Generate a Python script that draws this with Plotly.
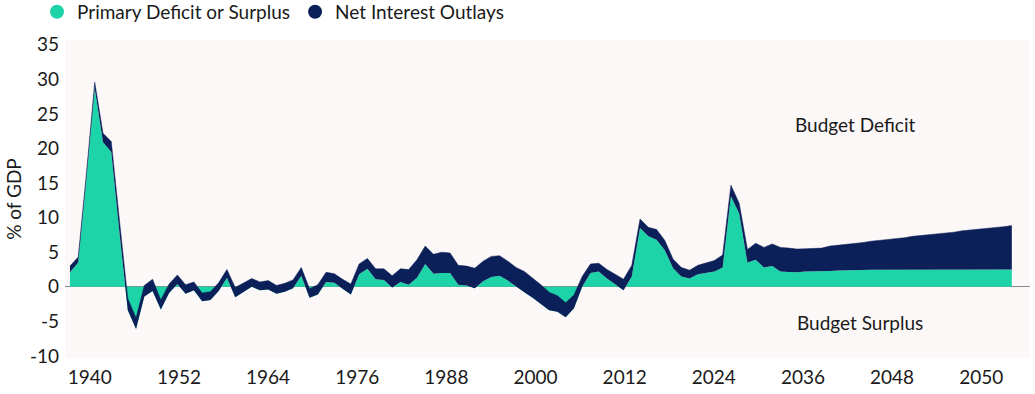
import plotly.graph_objects as go

years = list(range(1940, 2055))

primary = [
    2.1, 3.5, 15.8, 28.7, 20.9, 19.5, 7.7, -3.4, -6.1, -1.4,   # 1940-1949
    -0.6, -3.3, -0.9, 0.4, -1.0, -0.5, -2.1, -1.9, -0.6, 1.3,  # 1950-1959
    -1.5, -0.7, 0.0, -0.5, -0.4, -1.0, -0.7, -0.2, 1.6, -1.6,  # 1960-1969
    -1.1, 0.7, 0.6, -0.3, -1.1, 1.8, 2.6, 1.1, 1.0, -0.1,      # 1970-1979
    0.7, 0.3, 1.3, 3.3, 1.9, 2.0, 2.0, 0.3, 0.2, -0.2,         # 1980-1989
    0.8, 1.4, 1.6, 0.9, 0.0, -0.8, -1.6, -2.5, -3.4, -3.6,     # 1990-1999
    -4.4, -3.1, 0.0, 2.0, 2.2, 1.2, 0.3, -0.5, 1.5, 8.5,       # 2000-2009
    7.3, 6.8, 5.3, 2.7, 1.5, 1.2, 1.8, 2.0, 2.2, 2.8,          # 2010-2019
    13.1, 10.6, 3.5, 3.9, 2.8, 3.0, 2.2, 2.15, 2.1, 2.2,       # 2020-2029
    2.2, 2.2, 2.3, 2.35, 2.4, 2.4, 2.4, 2.45, 2.45, 2.45,      # 2030-2039
    2.45, 2.45, 2.5, 2.5, 2.5, 2.5, 2.5, 2.5, 2.5, 2.5,        # 2040-2049
    2.5, 2.5, 2.5, 2.5, 2.5,                                   # 2050-2054
]

net_interest = [
    0.9, 0.8, 0.7, 0.9, 1.3, 1.5, 1.8, 1.7, 1.6, 1.6,          # 1940-1949
    1.7, 1.4, 1.3, 1.3, 1.3, 1.2, 1.2, 1.2, 1.2, 1.2,          # 1950-1959
    1.4, 1.3, 1.2, 1.2, 1.3, 1.2, 1.2, 1.2, 1.2, 1.3,          # 1960-1969
    1.4, 1.4, 1.3, 1.4, 1.5, 1.5, 1.5, 1.5, 1.6, 1.7,          # 1970-1979
    1.9, 2.2, 2.6, 2.6, 2.8, 3.0, 2.9, 2.8, 2.8, 2.9,          # 1980-1989
    2.9, 3.0, 2.9, 2.8, 2.8, 3.0, 2.9, 2.8, 2.6, 2.3,          # 1990-1999
    2.1, 1.9, 1.5, 1.3, 1.2, 1.3, 1.5, 1.6, 1.6, 1.3,          # 2000-2009
    1.3, 1.5, 1.4, 1.3, 1.3, 1.2, 1.3, 1.4, 1.6, 1.8,          # 2010-2019
    1.6, 1.5, 1.9, 2.4, 2.9, 3.2, 3.5, 3.45, 3.35, 3.3,        # 2020-2029
    3.35, 3.4, 3.6, 3.65, 3.8, 3.9, 4.0, 4.15, 4.25, 4.35,     # 2030-2039
    4.55, 4.65, 4.8, 4.9, 5.0, 5.2, 5.3, 5.4, 5.6, 5.7,        # 2040-2049
    5.8, 6.0, 6.1, 6.2, 6.35,                                  # 2050-2054
]

tick_labels = ["1940", "1952", "1964", "1976", "1988", "2000",
               "2012", "2024", "2036", "2048", "2050"]
y_ticks = [-10, -5, 0, 5, 10, 15, 20, 25, 30, 35]

TEAL = "#1DD3A8"
NAVY = "#0B1F58"
FONT = "Lato"

first_tick, last_tick = 1942.4, 2050.3
step = (last_tick - first_tick) / (len(tick_labels) - 1)
tick_pos = [first_tick + i * step for i in range(len(tick_labels))]

fig = go.Figure()
fig.add_trace(go.Scatter(
    x=years, y=primary, stackgroup="one", mode="lines",
    line=dict(width=0, color=TEAL), fillcolor=TEAL,
    name="Primary Deficit or Surplus", showlegend=False, hoverinfo="skip"))
fig.add_trace(go.Scatter(
    x=years, y=net_interest, stackgroup="one", mode="lines",
    line=dict(width=0.5, color=NAVY), fillcolor=NAVY,
    name="Net Interest Outlays", showlegend=False, hoverinfo="skip"))

# legend entries with circular markers
fig.add_trace(go.Scatter(x=[None], y=[None], mode="markers",
                         marker=dict(symbol="circle", size=14, color=TEAL),
                         name="Primary Deficit or Surplus"))
fig.add_trace(go.Scatter(x=[None], y=[None], mode="markers",
                         marker=dict(symbol="circle", size=14, color=NAVY),
                         name="Net Interest Outlays"))

fig.add_annotation(x=2035.0, y=23.5, text="Budget Deficit", showarrow=False,
                   font=dict(family=FONT, size=19, color="#1a1a1a"))
fig.add_annotation(x=2035.6, y=-5.1, text="Budget Surplus", showarrow=False,
                   font=dict(family=FONT, size=19, color="#1a1a1a"))

fig.update_layout(
    width=1035, height=394,
    margin=dict(l=65, r=5, t=40, b=36, autoexpand=False),
    paper_bgcolor="white",
    plot_bgcolor="#FCF8F8",
    font=dict(family=FONT, size=19, color="#1a1a1a"),
    legend=dict(orientation="h", x=-0.029, y=1.148, xanchor="left", yanchor="top",
                font=dict(family=FONT, size=19, color="#1a1a1a"),
                traceorder="normal", itemwidth=30, bgcolor="rgba(0,0,0,0)"),
    showlegend=True,
    xaxis=dict(range=[1939.4, 2056.2], tickmode="array", tickvals=tick_pos,
               ticktext=tick_labels, showgrid=False, zeroline=False,
               ticks="", tickfont=dict(size=19), fixedrange=True,
               automargin=False, ticklabelstandoff=6),
    yaxis=dict(range=[-10.3, 35.7], tickmode="array",
               tickvals=y_ticks, ticktext=[str(v) for v in y_ticks],
               showgrid=False, zeroline=True, zerolinecolor="#8a8a8a",
               zerolinewidth=1, ticks="", tickfont=dict(size=19),
               automargin=False, ticklabelstandoff=5, fixedrange=True,
               title=dict(text="% of GDP", font=dict(size=19), standoff=3)),
)

fig.write_html(
    "out.html",
    config={"displayModeBar": False},
    post_script="document.body.style.margin='0px';"
                "document.body.style.overflow='hidden';",
)
